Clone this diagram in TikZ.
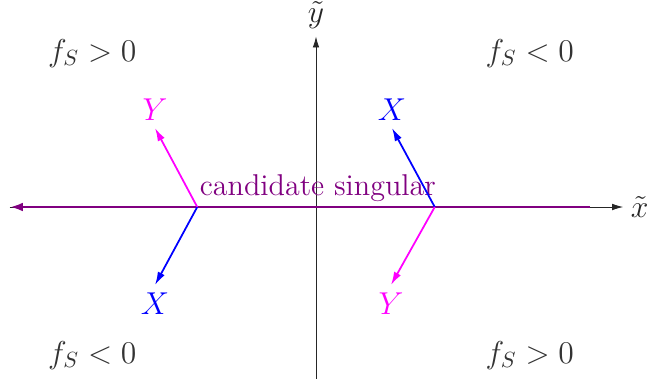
\documentclass[tikz,border=0pt]{standalone}
\usepackage{amsmath, amssymb}
\usetikzlibrary{arrows.meta}
\definecolor{mypurple}{RGB}{128,0,128}
\definecolor{mymagenta}{RGB}{255,0,255}
\definecolor{myblue}{RGB}{0,0,255}
\tikzset{
  axis/.style={-{Latex[length=5pt,width=3pt]},black!85,thin},
  vec/.style={-{Latex[length=6pt,width=3.5pt]},thick},
  lab/.style={font=\fontsize{13.7}{16}\selectfont},
}
\begin{document}
\begin{tikzpicture}
  \useasboundingbox (-5.056,-2.768) rectangle (5.312,3.312);
  % Axes
  \coordinate (xs) at (-4.9,0);
  \coordinate (ys) at (0,-2.75);
  \node[lab,black!85] (xlab) at (5.18,0) {$\tilde{x}$};
  \node[lab,black!85] (ylab) at (0,3.07) {$\tilde{y}$};
  \draw[axis] (xs) -- (xlab);
  \draw[axis] (ys) -- (ylab);
  % Candidate singular line
  \coordinate (ce) at (4.38,0);
  \coordinate (cs) at (-4.9,0);
  \draw[-{Latex[length=6pt,width=4pt]},mypurple,very thick] (ce) -- (cs);
  \node[lab,mypurple] (cand) at (0.03,0.30) {candidate singular};
  % Left point
  \coordinate (L) at (-1.9,0);
  \coordinate (LYt) at (-2.576,1.264);
  \coordinate (LXt) at (-2.576,-1.248);
  \node[lab,mymagenta,above] (LY) at (LYt) {$Y$};
  \node[lab,myblue,below] (LX) at (LXt) {$X$};
  \draw[vec,mymagenta] (L) -- (LYt);
  \draw[vec,myblue] (L) -- (LXt);
  % Right point
  \coordinate (R) at (1.9,0);
  \coordinate (RXt) at (1.216,1.264);
  \coordinate (RYt) at (1.2,-1.248);
  \node[lab,myblue,above] (RX) at (RXt) {$X$};
  \node[lab,mymagenta,below] (RY) at (RYt) {$Y$};
  \draw[vec,myblue] (R) -- (RXt);
  \draw[vec,mymagenta] (R) -- (RYt);
  % Sign regions
  \node[lab,black!80] (q2) at (-3.58,2.46) {$f_S>0$};
  \node[lab,black!80] (q1) at (3.42,2.46) {$f_S<0$};
  \node[lab,black!80] (q3) at (-3.58,-2.37) {$f_S<0$};
  \node[lab,black!80] (q4) at (3.42,-2.37) {$f_S>0$};
\end{tikzpicture}
\end{document}
